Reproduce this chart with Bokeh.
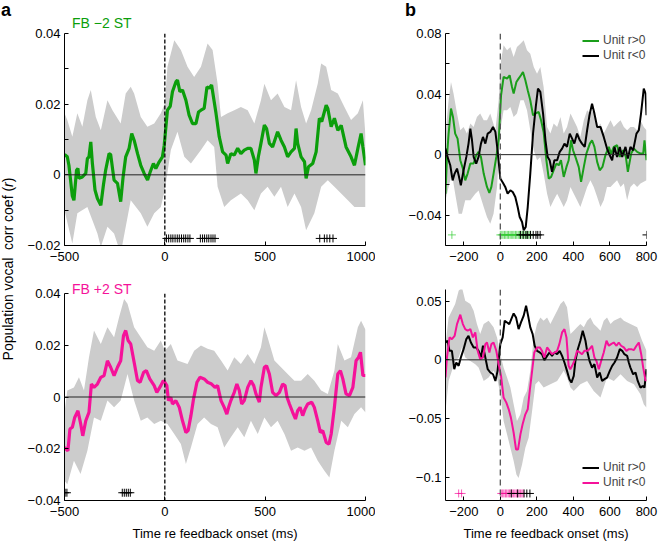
from bokeh.plotting import figure
from bokeh.layouts import row, column
from bokeh.models import Range1d, Span, FixedTicker, Legend, LegendItem, Div
from bokeh.embed import file_html
from bokeh.resources import INLINE

FONT = "Liberation Sans"
GREEN = "#0b9e0b"
GREEN_B = "#1a9e1a"
GREEN_MARK = "#33cc33"
PINK = "#f5129a"
BAND = "#cccccc"
MINUS = "\u2212"

# ---------------- Panel a, top: FB -2 ST ----------------
a_top_t = [-500, -486, -478, -461, -453, -440, -433, -428, -411, -394, -386, -378, -369, -361, -348, -336,
           -319, -306, -295, -278, -270, -253, -236, -220, -208, -195, -178, -165, -153, -136, -120, -103,
           -86, -73, -57, -45, -28, -12, -3, 13, 27, 38, 55, 63, 75, 88, 105, 121, 138, 155, 168, 180,
           196, 210, 221, 233, 255, 271, 288, 305, 313, 329, 346, 363, 379, 396, 413, 429, 446, 454, 466,
           479, 496, 507, 521, 537, 562, 579, 596, 612, 629, 646, 654, 662, 679, 696, 704, 716, 737, 754,
           770, 782, 804, 812, 829, 845, 862, 879, 903, 928, 945, 962, 978, 987, 1000]
a_top_r = [0.0058, 0.0051, 0.0027, -0.0060, -0.0072, 0.0013, 0.0018, -0.0010, -0.0006, 0.0004, 0.0046,
           0.0051, 0.0093, 0.0032, -0.0043, -0.0067, -0.0086, -0.0029, 0.0013, 0.0060, 0.0058, -0.0015,
           -0.0024, -0.0076, -0.0006, 0.0051, 0.0075, 0.0117, 0.0098, 0.0060, 0.0027, 0.0004, -0.0015,
           0.0008, 0.0032, 0.0018, 0.0037, 0.0051, 0.0084, 0.0183, 0.0194, 0.0235, 0.0263, 0.0268,
           0.0235, 0.0240, 0.0211, 0.0169, 0.0145, 0.0145, 0.0178, 0.0183, 0.0188, 0.0249, 0.0245,
           0.0254, 0.0174, 0.0108, 0.0065, 0.0056, 0.0032, 0.0060, 0.0056, 0.0075, 0.0060, 0.0070,
           0.0075, 0.0075, 0.0042, 0.0004, 0.0051, 0.0089, 0.0141, 0.0131, 0.0089, 0.0079, 0.0122,
           0.0098, 0.0079, 0.0051, 0.0065, 0.0075, 0.0131, 0.0089, 0.0051, 0.0037, -0.0010, 0.0023,
           0.0032, 0.0065, 0.0160, 0.0151, 0.0197, 0.0188, 0.0136, 0.0160, 0.0126, 0.0140, 0.0079,
           0.0051, 0.0027, 0.0075, 0.0117, 0.0079, 0.0027]
a_top_hi_t = [-500, -486, -461, -436, -411, -386, -369, -344, -319, -286, -261, -220, -195, -170, -153,
              -120, -87, -53, -20, 0, 13, 47, 80, 113, 146, 180, 213, 238, 263, 280, 313, 346, 379, 413,
              446, 479, 496, 529, 562, 596, 629, 654, 679, 704, 729, 762, 779, 804, 829, 862, 895, 928,
              962, 987, 1000]
a_top_hi = [0.0174, 0.0155, 0.0108, 0.0174, 0.0136, 0.0211, 0.0240, 0.0164, 0.0126, 0.0211, 0.0183,
            0.0145, 0.0230, 0.0249, 0.0230, 0.0164, 0.0136, 0.0145, 0.0174, 0.0202, 0.0306, 0.0381,
            0.0353, 0.0306, 0.0277, 0.0306, 0.0372, 0.0353, 0.0258, 0.0164, 0.0174, 0.0183, 0.0192,
            0.0183, 0.0145, 0.0211, 0.0258, 0.0211, 0.0230, 0.0192, 0.0183, 0.0268, 0.0192, 0.0145,
            0.0183, 0.0258, 0.0315, 0.0306, 0.0240, 0.0230, 0.0192, 0.0155, 0.0174, 0.0211, 0.0110]
a_top_lo_t = [-500, -461, -436, -386, -336, -319, -286, -253, -220, -170, -120, -87, -53, -20, 0, 30, 63,
              97, 130, 180, 213, 246, 263, 296, 329, 379, 413, 446, 479, 512, 546, 579, 612, 646, 679,
              704, 745, 779, 812, 845, 912, 945, 1000]
a_top_lo = [-0.0100, -0.0194, -0.0109, -0.0091, -0.0166, -0.0204, -0.0147, -0.0166, -0.0223, -0.0072,
            -0.0109, -0.0147, -0.0109, -0.0091, -0.0043, 0.0070, 0.0122, 0.0051, 0.0032, 0.0070, 0.0098,
            0.0079, -0.0034, -0.0091, -0.0072, -0.0053, -0.0072, -0.0100, -0.0053, -0.0034, -0.0062,
            -0.0034, -0.0091, -0.0053, -0.0091, -0.0157, -0.0109, -0.0034, -0.0015, -0.0034, -0.0072,
            -0.0091, -0.0091]
a_top_sig_t = [8, 19, 30, 40, 51, 62, 72, 83, 94, 104, 115, 125,
               177, 188, 198, 209, 219, 230, 240, 250,
               772, 795, 808, 822, 838]
a_top_sig_y = -0.018

# ---------------- Panel a, bottom: FB +2 ST ----------------
a_bot_t = [-500, -483, -473, -461, -449, -433, -419, -409, -394, -378, -366, -353, -336, -319, -303, -286,
           -270, -253, -236, -220, -206, -195, -183, -170, -153, -136, -123, -106, -92, -75, -53, -40,
           -20, -8, 0, 10, 18, 30, 38, 55, 72, 88, 105, 116, 130, 143, 160, 175, 196, 213, 233, 250,
           263, 280, 296, 309, 318, 329, 346, 359, 371, 383, 396, 413, 429, 443, 454, 471, 479, 496,
           507, 521, 537, 554, 571, 587, 599, 609, 621, 637, 651, 662, 674, 687, 699, 712, 732, 745,
           762, 775, 787, 804, 818, 829, 845, 862, 875, 887, 903, 920, 937, 953, 965, 975, 987, 1000]
a_bot_r = [-0.0195, -0.0208, -0.0124, -0.0117, -0.0079, -0.0053, -0.0105, -0.0150, -0.0092, -0.0059,
           0.0050, 0.0037, 0.0050, 0.0076, 0.0083, 0.0140, 0.0115, 0.0083, 0.0115, 0.0140, 0.0237,
           0.0257, 0.0218, 0.0205, 0.0134, 0.0063, 0.0057, 0.0095, 0.0102, 0.0070, 0.0044, 0.0018,
           0.0044, 0.0063, 0.0057, 0.0044, -0.0014, -0.0001, -0.0027, -0.0014, -0.0040, -0.0092,
           -0.0137, -0.0130, -0.0072, -0.0008, 0.0057, 0.0076, 0.0070, 0.0057, 0.0050, 0.0037, 0.0044,
           -0.0014, -0.0040, -0.0066, -0.0040, -0.0014, 0.0018, 0.0050, 0.0025, -0.0027, -0.0014,
           0.0037, 0.0063, 0.0044, 0.0012, -0.0020, 0.0037, 0.0115, 0.0121, 0.0089, 0.0018, 0.0005,
           0.0018, 0.0050, 0.0044, -0.0001, -0.0027, -0.0059, -0.0085, -0.0053, -0.0040, -0.0072,
           -0.0046, -0.0027, -0.0020, -0.0040, -0.0092, -0.0137, -0.0130, -0.0175, -0.0182, -0.0143,
           -0.0040, 0.0089, 0.0102, 0.0070, 0.0012, 0.0005, 0.0037, 0.0140, 0.0153, 0.0173, 0.0083,
           0.0083]
a_bot_hi_t = [-500, -486, -453, -428, -403, -378, -353, -319, -286, -253, -228, -203, -186, -153, -120,
              -87, -53, -20, 0, 30, 63, 113, 146, 180, 213, 246, 280, 313, 346, 379, 413, 446, 479, 496,
              512, 546, 579, 612, 646, 679, 712, 745, 779, 812, 845, 862, 895, 928, 962, 978, 1000]
a_bot_hi = [-0.0059, 0.0025, 0.0037, 0.0076, 0.0025, 0.0154, 0.0257, 0.0205, 0.0270, 0.0231, 0.0308,
            0.0379, 0.0360, 0.0270, 0.0231, 0.0192, 0.0179, 0.0218, 0.0179, 0.0205, 0.0141, 0.0128,
            0.0179, 0.0199, 0.0186, 0.0179, 0.0141, 0.0102, 0.0154, 0.0128, 0.0166, 0.0128, 0.0192,
            0.0270, 0.0231, 0.0141, 0.0115, 0.0089, 0.0063, 0.0063, 0.0089, 0.0063, 0.0025, 0.0012,
            0.0102, 0.0205, 0.0141, 0.0154, 0.0270, 0.0295, 0.0260]
a_bot_lo_t = [-500, -486, -453, -420, -386, -353, -319, -286, -253, -220, -186, -153, -120, -87, -53,
              -20, 13, 47, 80, 105, 130, 163, 196, 230, 263, 296, 329, 363, 396, 429, 463, 496, 529,
              562, 596, 629, 662, 696, 729, 762, 795, 820, 845, 879, 912, 945, 978, 1000]
a_bot_lo = [-0.0324, -0.0337, -0.0246, -0.0298, -0.0208, -0.0079, -0.0092, -0.0014, -0.0040, -0.0014,
            0.0089, -0.0014, -0.0092, -0.0079, -0.0104, -0.0092, -0.0104, -0.0143, -0.0182, -0.0259,
            -0.0195, -0.0104, -0.0079, -0.0104, -0.0117, -0.0195, -0.0156, -0.0117, -0.0156, -0.0092,
            -0.0143, -0.0079, -0.0117, -0.0092, -0.0143, -0.0208, -0.0195, -0.0208, -0.0195, -0.0246,
            -0.0285, -0.0311, -0.0208, -0.0092, -0.0117, -0.0066, -0.0040, -0.0060]
a_bot_sig_t = [-497, -488, -212, -202, -192, -182, -172]
a_bot_sig_y = -0.037

# ---------------- Panel b, top ----------------
b_top_pos_t = [-300, -292, -283, -270, -259, -247, -234, -219, -205, -192, -179, -164, -146, -132, -119,
               -106, -91, -73, -60, -49, -37, -22, -9, 4, 18, 37, 51, 64, 73, 88, 100, 113, 124, 137,
               150, 164, 179, 192, 210, 223, 237, 252, 265, 278, 292, 307, 320, 332, 347, 362, 374,
               387, 398, 411, 429, 442, 457, 471, 490, 502, 515, 530, 544, 559, 575, 594, 606, 621,
               639, 654, 672, 687, 698, 716, 731, 749, 767, 782, 789, 800]
b_top_pos_r = [-0.0258, -0.0015, 0.0139, 0.0304, 0.0249, 0.0139, 0.0106, -0.0037, -0.0092, -0.0170,
               -0.0125, -0.0059, -0.0059, -0.0004, 0.0018, -0.0015, -0.0125, -0.0213, -0.0253, -0.0213,
               -0.0125, -0.0015, 0.0095, 0.0392, 0.0513, 0.0502, 0.0524, 0.0447, 0.0403, 0.0480,
               0.0502, 0.0524, 0.0546, 0.0491, 0.0425, 0.0359, 0.0260, 0.0271, 0.0282, 0.0227, 0.0150,
               -0.0037, -0.0158, -0.0147, -0.0103, -0.0059, -0.0070, -0.0037, -0.0147, -0.0081,
               -0.0037, 0.0095, 0.0029, -0.0015, -0.0081, -0.0180, -0.0081, 0.0007, 0.0073, 0.0095,
               0.0051, -0.0048, -0.0103, -0.0081, -0.0004, 0.0051, 0.0007, 0.0051, 0.0062, -0.0015,
               0.0029, -0.0015, -0.0114, 0.0007, 0.0040, 0.0018, 0.0007, 0.0007, 0.0095, -0.0037]
b_top_neg_t = [-300, -289, -274, -261, -250, -237, -228, -216, -201, -186, -174, -164, -155, -146, -132,
               -119, -106, -95, -82, -69, -55, -40, -27, -15, 0, 15, 27, 40, 55, 68, 82, 95, 106, 119,
               128, 139, 150, 164, 179, 194, 206, 219, 234, 247, 259, 270, 283, 296, 311, 325, 338, 351,
               365, 380, 393, 405, 420, 435, 447, 462, 475, 488, 502, 515, 530, 548, 566, 584, 599,
               612, 625, 639, 654, 667, 685, 698, 712, 727, 745, 758, 770, 785, 795, 800]
b_top_neg_r = [0.0040, -0.0015, -0.0070, -0.0170, -0.0125, -0.0092, -0.0136, -0.0202, -0.0103, -0.0015,
               0.0073, 0.0172, 0.0095, -0.0015, -0.0059, -0.0015, 0.0073, 0.0117, 0.0073, 0.0139,
               0.0150, 0.0183, 0.0150, 0.0029, -0.0158, -0.0187, -0.0213, -0.0258, -0.0236, -0.0247,
               -0.0280, -0.0346, -0.0412, -0.0445, -0.0500, -0.0478, -0.0346, -0.0125, 0.0139, 0.0315,
               0.0436, 0.0414, 0.0271, 0.0095, -0.0015, -0.0037, -0.0114, -0.0037, -0.0037, 0.0018,
               0.0040, 0.0073, 0.0051, 0.0139, 0.0106, 0.0073, 0.0139, 0.0095, 0.0073, 0.0051, 0.0161,
               0.0260, 0.0337, 0.0271, 0.0183, 0.0183, 0.0117, 0.0040, -0.0004, -0.0037, 0.0051,
               -0.0015, 0.0051, -0.0015, 0.0051, -0.0026, 0.0051, 0.0029, 0.0139, 0.0161, 0.0271,
               0.0436, 0.0403, 0.0260]
b_top_hi_t = [-300, -283, -270, -256, -237, -219, -201, -183, -164, -146, -128, -110, -91, -73, -55, -27,
              -9, 4, 18, 37, 55, 73, 91, 110, 128, 146, 164, 183, 201, 219, 237, 256, 274, 292, 311,
              329, 347, 365, 384, 402, 420, 438, 457, 475, 493, 511, 530, 548, 566, 584, 603, 621, 639,
              658, 676, 694, 712, 731, 749, 767, 785, 800]
b_top_hi = [0.0139, 0.0359, 0.0480, 0.0403, 0.0271, 0.0161, 0.0183, 0.0139, 0.0205, 0.0183, 0.0249,
            0.0271, 0.0227, 0.0227, 0.0271, 0.0161, 0.0359, 0.0623, 0.0722, 0.0689, 0.0711, 0.0645,
            0.0711, 0.0733, 0.0755, 0.0689, 0.0667, 0.0579, 0.0535, 0.0579, 0.0447, 0.0183, 0.0139,
            0.0205, 0.0183, 0.0249, 0.0139, 0.0183, 0.0271, 0.0227, 0.0183, 0.0117, 0.0227, 0.0293,
            0.0271, 0.0293, 0.0183, 0.0205, 0.0139, 0.0183, 0.0227, 0.0183, 0.0205, 0.0227, 0.0183,
            0.0161, 0.0183, 0.0183, 0.0161, 0.0227, 0.0183, 0.0161]
b_top_lo_t = [-300, -283, -265, -247, -228, -210, -192, -164, -137, -119, -91, -73, -55, -37, -18, 0, 18,
              37, 55, 73, 91, 110, 128, 146, 164, 183, 201, 219, 237, 256, 274, 292, 311, 329, 347, 365,
              384, 402, 420, 438, 457, 475, 493, 511, 530, 548, 566, 584, 603, 621, 639, 658, 676, 694,
              712, 731, 749, 767, 800]
b_top_lo = [-0.0302, -0.0213, -0.0125, -0.0258, -0.0390, -0.0390, -0.0302, -0.0302, -0.0258, -0.0236,
            -0.0346, -0.0412, -0.0456, -0.0390, -0.0213, 0.0161, 0.0293, 0.0293, 0.0315, 0.0249,
            0.0271, 0.0359, 0.0359, 0.0293, 0.0161, 0.0029, -0.0037, -0.0015, -0.0125, -0.0258,
            -0.0346, -0.0302, -0.0258, -0.0302, -0.0346, -0.0302, -0.0213, -0.0258, -0.0302, -0.0346,
            -0.0280, -0.0213, -0.0169, -0.0213, -0.0280, -0.0346, -0.0302, -0.0213, -0.0213, -0.0191,
            -0.0169, -0.0213, -0.0191, -0.0302, -0.0213, -0.0191, -0.0213, -0.0191, -0.0169]
b_top_sig_y = -0.053
b_top_sig_pos_t = [-265, 0, 8, 15, 23, 30, 38, 45, 53, 60, 68, 75, 83, 90, 98, 105, 113, 120, 128, 135,
                   143, 150, 158, 166]
b_top_sig_neg_t = [110, 125, 140, 150, 165, 180, 195, 205, 218, 800]

# ---------------- Panel b, bottom ----------------
b_bot_pos_t = [-300, -289, -278, -265, -252, -241, -228, -216, -201, -186, -174, -161, -146, -132, -119,
               -106, -95, -82, -69, -55, -40, -27, -15, 0, 13, 24, 37, 49, 60, 73, 86, 100, 113, 128,
               141, 152, 164, 177, 188, 201, 216, 228, 241, 256, 270, 283, 296, 311, 325, 338, 351,
               365, 378, 389, 402, 411, 424, 438, 451, 466, 475, 488, 502, 515, 530, 544, 557, 570,
               584, 599, 612, 625, 639, 654, 667, 679, 694, 703, 712, 727, 740, 752, 767, 779, 789, 800]
b_bot_pos_r = [0.0148, 0.0163, 0.0077, 0.0077, -0.0080, -0.0023, -0.0051, 0.0020, 0.0091, 0.0177,
               0.0205, 0.0148, 0.0106, 0.0106, 0.0077, 0.0020, 0.0120, 0.0020, -0.0080, -0.0108,
               -0.0123, -0.0180, -0.0094, 0.0134, 0.0191, 0.0334, 0.0319, 0.0305, 0.0348, 0.0396,
               0.0362, 0.0262, 0.0319, 0.0377, 0.0462, 0.0377, 0.0277, 0.0220, 0.0120, 0.0077, 0.0063,
               0.0048, -0.0003, 0.0034, 0.0063, 0.0034, 0.0063, 0.0048, 0.0077, 0.0034, -0.0023,
               -0.0094, -0.0165, -0.0194, -0.0137, -0.0009, 0.0091, 0.0163, 0.0248, 0.0163, 0.0077,
               -0.0009, -0.0066, -0.0037, -0.0151, -0.0108, -0.0180, -0.0165, -0.0151, -0.0094,
               -0.0051, -0.0023, 0.0020, 0.0091, 0.0077, 0.0048, 0.0034, -0.0023, -0.0066, -0.0123,
               -0.0108, -0.0180, -0.0237, -0.0223, -0.0237, -0.0080]
b_bot_neg_t = [-300, -292, -278, -265, -250, -237, -219, -205, -192, -179, -164, -150, -137, -124, -110,
               -95, -82, -73, -60, -49, -37, -22, -9, 4, 18, 33, 46, 58, 73, 86, 97, 110, 122, 137, 150,
               161, 174, 186, 201, 216, 228, 241, 256, 270, 283, 298, 311, 323, 338, 351, 362, 374,
               383, 393, 405, 420, 435, 447, 460, 475, 488, 502, 515, 526, 539, 552, 566, 581, 594,
               606, 621, 636, 648, 661, 676, 690, 703, 716, 731, 745, 758, 771, 782, 795, 800]
b_bot_neg_r = [-0.0151, 0.0020, 0.0191, 0.0177, 0.0205, 0.0305, 0.0385, 0.0305, 0.0262, 0.0248, 0.0262,
               0.0191, 0.0234, 0.0077, 0.0006, 0.0020, 0.0134, 0.0148, 0.0063, 0.0134, 0.0148, 0.0077,
               -0.0037, -0.0137, -0.0322, -0.0365, -0.0422, -0.0493, -0.0622, -0.0764, -0.0764,
               -0.0636, -0.0550, -0.0465, -0.0422, -0.0265, -0.0094, 0.0063, 0.0106, 0.0106, 0.0077,
               0.0020, 0.0106, 0.0077, 0.0048, 0.0063, 0.0077, 0.0134, 0.0234, 0.0262, 0.0191,
               -0.0051, -0.0080, -0.0051, -0.0009, 0.0077, 0.0063, 0.0048, 0.0077, 0.0077, 0.0091,
               0.0120, 0.0020, -0.0009, -0.0080, -0.0009, 0.0063, 0.0163, 0.0120, 0.0134, 0.0148,
               0.0120, 0.0148, 0.0120, 0.0106, 0.0077, 0.0091, 0.0091, 0.0083, 0.0120, 0.0148, 0.0048,
               -0.0066, -0.0180, -0.0165]
b_bot_hi_t = [-300, -283, -265, -247, -228, -210, -192, -164, -146, -128, -110, -91, -64, -37, -18, 0, 18,
              37, 55, 73, 91, 110, 128, 146, 164, 183, 201, 219, 237, 256, 274, 292, 311, 329, 347, 365,
              384, 402, 420, 438, 457, 475, 493, 511, 530, 548, 566, 584, 603, 621, 658, 676, 712, 749,
              776, 800]
b_bot_hi = [0.0134, 0.0362, 0.0419, 0.0476, 0.0590, 0.0619, 0.0505, 0.0476, 0.0419, 0.0305, 0.0220,
            0.0305, 0.0334, 0.0277, 0.0191, 0.0048, -0.0066, -0.0151, -0.0237, -0.0379, -0.0522,
            -0.0465, -0.0322, -0.0265, -0.0094, 0.0191, 0.0305, 0.0362, 0.0334, 0.0362, 0.0305,
            0.0362, 0.0419, 0.0476, 0.0505, 0.0448, 0.0220, 0.0248, 0.0277, 0.0305, 0.0277, 0.0334,
            0.0362, 0.0305, 0.0277, 0.0248, 0.0334, 0.0362, 0.0305, 0.0334, 0.0362, 0.0334, 0.0305,
            0.0277, 0.0163, 0.0077]
b_bot_lo_t = [-300, -283, -265, -247, -228, -210, -192, -164, -137, -119, -91, -64, -37, -18, 0, 18, 37,
              55, 73, 88, 100, 119, 137, 155, 174, 192, 210, 237, 274, 311, 347, 365, 384, 402, 438,
              475, 511, 548, 584, 621, 658, 694, 731, 767, 785, 800]
b_bot_lo = [-0.0436, -0.0180, -0.0094, -0.0009, 0.0020, 0.0106, 0.0020, -0.0009, -0.0037, -0.0066,
            -0.0180, -0.0151, -0.0094, -0.0151, -0.0294, -0.0522, -0.0636, -0.0750, -0.0864, -0.0978,
            -0.1007, -0.0893, -0.0750, -0.0665, -0.0436, -0.0208, -0.0180, -0.0237, -0.0208, -0.0180,
            -0.0094, -0.0151, -0.0237, -0.0265, -0.0208, -0.0180, -0.0265, -0.0322, -0.0151, -0.0180,
            -0.0123, -0.0180, -0.0208, -0.0294, -0.0379, -0.0408]
b_bot_sig_y = -0.114
b_bot_sig_neg_t = [-228, -212, 5, 13, 20, 28, 35, 43, 50, 58, 65, 73, 80, 88, 95, 103, 110, 118, 125]
b_bot_sig_pos_t = [60, 95, 130, 145, 162]

# ---------------- Tick labels and texts ----------------
a_xticks = [-500, 0, 500, 1000]
a_xlabels = [MINUS + "500", "0", "500", "1000"]
b_xticks = [-200, 0, 200, 400, 600, 800]
b_xlabels = [MINUS + "200", "0", "200", "400", "600", "800"]
a_top_yticks = [-0.02, 0, 0.02, 0.04]
a_top_ylabels = [MINUS + "0.02", "0", "0.02", "0.04"]
a_top_yminor = [-0.01, 0.01, 0.03]
a_bot_yticks = [-0.04, -0.02, 0, 0.02, 0.04]
a_bot_ylabels = [MINUS + "0.04", MINUS + "0.02", "0", "0.02", "0.04"]
b_top_yticks = [-0.04, 0, 0.04, 0.08]
b_top_ylabels = [MINUS + "0.04", "0", "0.04", "0.08"]
b_top_yminor = [-0.06, -0.02, 0.02, 0.06]
b_bot_yticks = [-0.1, -0.05, 0, 0.05]
b_bot_ylabels = [MINUS + "0.1", MINUS + "0.05", "0", "0.05"]

XLABEL = "Time re feedback onset (ms)"
YLABEL_HTML = "Population vocal&nbsp; corr coef (<i>r</i>)"
TITLE_TOP = "FB " + MINUS + "2 ST"
TITLE_BOT = "FB +2 ST"


def make_fig(xr, yr, fw, fh, ml, mr, mt, mb):
    p = figure(x_range=Range1d(*xr), y_range=Range1d(*yr), frame_width=fw, frame_height=fh,
               min_border_left=ml, min_border_right=mr, min_border_top=mt, min_border_bottom=mb,
               output_backend="svg", toolbar_location=None, tools="")
    p.grid.visible = False
    p.outline_line_color = None
    p.background_fill_color = None
    p.border_fill_color = None
    return p


def style_axes(p, xt, xl, yt, yl, ym=None, xlabel=None):
    p.xaxis.ticker = FixedTicker(ticks=xt)
    p.xaxis.major_label_overrides = dict(zip(xt, xl))
    p.yaxis.ticker = FixedTicker(ticks=yt, minor_ticks=ym or [])
    p.yaxis.major_label_overrides = dict(zip(yt, yl))
    for ax in (p.xaxis[0], p.yaxis[0]):
        ax.major_tick_in = 4
        ax.major_tick_out = 0
        ax.minor_tick_in = 4
        ax.minor_tick_out = 0
        ax.axis_line_color = "black"
        ax.major_tick_line_color = "black"
        ax.minor_tick_line_color = "black"
        ax.major_label_text_font = FONT
        ax.major_label_text_font_size = "13px"
        ax.major_label_text_color = "black"
    p.yaxis.major_label_standoff = 4
    p.xaxis.major_label_standoff = 6
    if xlabel:
        p.xaxis.axis_label = xlabel
        p.xaxis.axis_label_text_font = FONT
        p.xaxis.axis_label_text_font_size = "13px"
        p.xaxis.axis_label_text_font_style = "normal"
        p.xaxis.axis_label_text_color = "black"
        p.xaxis.axis_label_standoff = 7


def band(p, ht, hy, lt, ly):
    p.patch(x=ht + lt[::-1], y=hy + ly[::-1], fill_color=BAND, line_color=None)


def guides(p, dash_color, dash):
    p.add_layout(Span(location=0, dimension="width", line_color="#222222", line_width=1))
    p.add_layout(Span(location=0, dimension="height", line_color=dash_color, line_width=1.3,
                      line_dash=dash))


# ---- a top ----
pa1 = make_fig((-500, 1000), (-0.02, 0.04), 301, 212, 42, 10, 33, 24)
band(pa1, a_top_hi_t, a_top_hi, a_top_lo_t, a_top_lo)
guides(pa1, "black", "4 2")
pa1.line(a_top_t, a_top_r, line_color=GREEN, line_width=3.2)
pa1.scatter(a_top_sig_t, [a_top_sig_y] * len(a_top_sig_t), marker="cross", size=8,
            line_color="black", line_width=1)
style_axes(pa1, a_xticks, a_xlabels, a_top_yticks, a_top_ylabels, a_top_yminor)

# ---- a bottom ----
pa2 = make_fig((-500, 1000), (-0.04, 0.04), 301, 207, 42, 10, 24, 43)
band(pa2, a_bot_hi_t, a_bot_hi, a_bot_lo_t, a_bot_lo)
guides(pa2, "black", "4 2")
pa2.line(a_bot_t, a_bot_r, line_color=PINK, line_width=3.2)
pa2.scatter(a_bot_sig_t, [a_bot_sig_y] * len(a_bot_sig_t), marker="cross", size=8,
            line_color="black", line_width=1)
style_axes(pa2, a_xticks, a_xlabels, a_bot_yticks, a_bot_ylabels, None, XLABEL)

# ---- b top ----
pb1 = make_fig((-300, 800), (-0.06, 0.08), 201, 212, 70, 14, 33, 24)
band(pb1, b_top_hi_t, b_top_hi, b_top_lo_t, b_top_lo)
guides(pb1, "#555555", "6 4")
g1 = pb1.line(b_top_pos_t, b_top_pos_r, line_color=GREEN_B, line_width=2)
k1 = pb1.line(b_top_neg_t, b_top_neg_r, line_color="black", line_width=2)
pb1.scatter(b_top_sig_pos_t, [b_top_sig_y] * len(b_top_sig_pos_t), marker="cross", size=8,
            line_color=GREEN_MARK, line_alpha=0.7, line_width=1)
pb1.scatter(b_top_sig_neg_t, [b_top_sig_y] * len(b_top_sig_neg_t), marker="cross", size=8,
            line_color="black", line_width=1)
style_axes(pb1, b_xticks, b_xlabels, b_top_yticks, b_top_ylabels, b_top_yminor)
leg1 = Legend(items=[LegendItem(label="Unit r>0", renderers=[g1]),
                     LegendItem(label="Unit r<0", renderers=[k1])],
              location=(137, 183))
pb1.add_layout(leg1)

# ---- b bottom ----
pb2 = make_fig((-300, 800), (-0.12, 0.06), 201, 211, 70, 14, 20, 43)
band(pb2, b_bot_hi_t, b_bot_hi, b_bot_lo_t, b_bot_lo)
guides(pb2, "#555555", "6 4")
k2 = pb2.line(b_bot_pos_t, b_bot_pos_r, line_color="black", line_width=2)
m2 = pb2.line(b_bot_neg_t, b_bot_neg_r, line_color=PINK, line_width=2)
pb2.scatter(b_bot_sig_neg_t, [b_bot_sig_y] * len(b_bot_sig_neg_t), marker="cross", size=8,
            line_color=PINK, line_alpha=0.7, line_width=1)
pb2.scatter(b_bot_sig_pos_t, [b_bot_sig_y] * len(b_bot_sig_pos_t), marker="cross", size=8,
            line_color="black", line_width=1)
style_axes(pb2, b_xticks, b_xlabels, b_bot_yticks, b_bot_ylabels, None, XLABEL)
leg2 = Legend(items=[LegendItem(label="Unit r>0", renderers=[k2]),
                     LegendItem(label="Unit r<0", renderers=[m2])],
              location=(137, 11))
pb2.add_layout(leg2)

for lg in (leg1, leg2):
    lg.background_fill_alpha = 0
    lg.border_line_alpha = 0
    lg.label_text_font = FONT
    lg.label_text_font_size = "12px"
    lg.glyph_width = 17
    lg.glyph_height = 13
    lg.label_height = 13
    lg.label_standoff = 4
    lg.spacing = 1
    lg.padding = 0
    lg.margin = 0

# Panel letters, panel titles and shared y label (HTML text, positioned on the page)
side = Div(
    text=('<div style="position:relative;width:22px;height:540px;font-family:\'Liberation Sans\';color:black;">'
          '<div style="position:absolute;z-index:10;left:1px;top:1px;line-height:18px;font-weight:bold;font-size:18px;">a</div>'
          '<div style="position:absolute;z-index:10;left:405px;top:1px;line-height:18px;font-weight:bold;font-size:18px;">b</div>'
          '<div style="position:absolute;z-index:10;left:72px;top:16px;line-height:14px;white-space:nowrap;font-size:14px;color:' + GREEN + ';">' + TITLE_TOP + '</div>'
          '<div style="position:absolute;z-index:10;left:72px;top:282px;line-height:14px;white-space:nowrap;font-size:14px;color:' + PINK + ';">' + TITLE_BOT + '</div>'
          '<div style="position:absolute;z-index:10;left:8px;top:269px;transform:translate(-50%,-50%) rotate(-90deg);'
          'white-space:nowrap;font-size:14px;">' + YLABEL_HTML + '</div></div>'),
    width=22, height=540, margin=0)

layout = row(side, column(pa1, pa2), column(pb1, pb2))

with open("out.html", "w") as f:
    f.write(file_html(layout, INLINE))
